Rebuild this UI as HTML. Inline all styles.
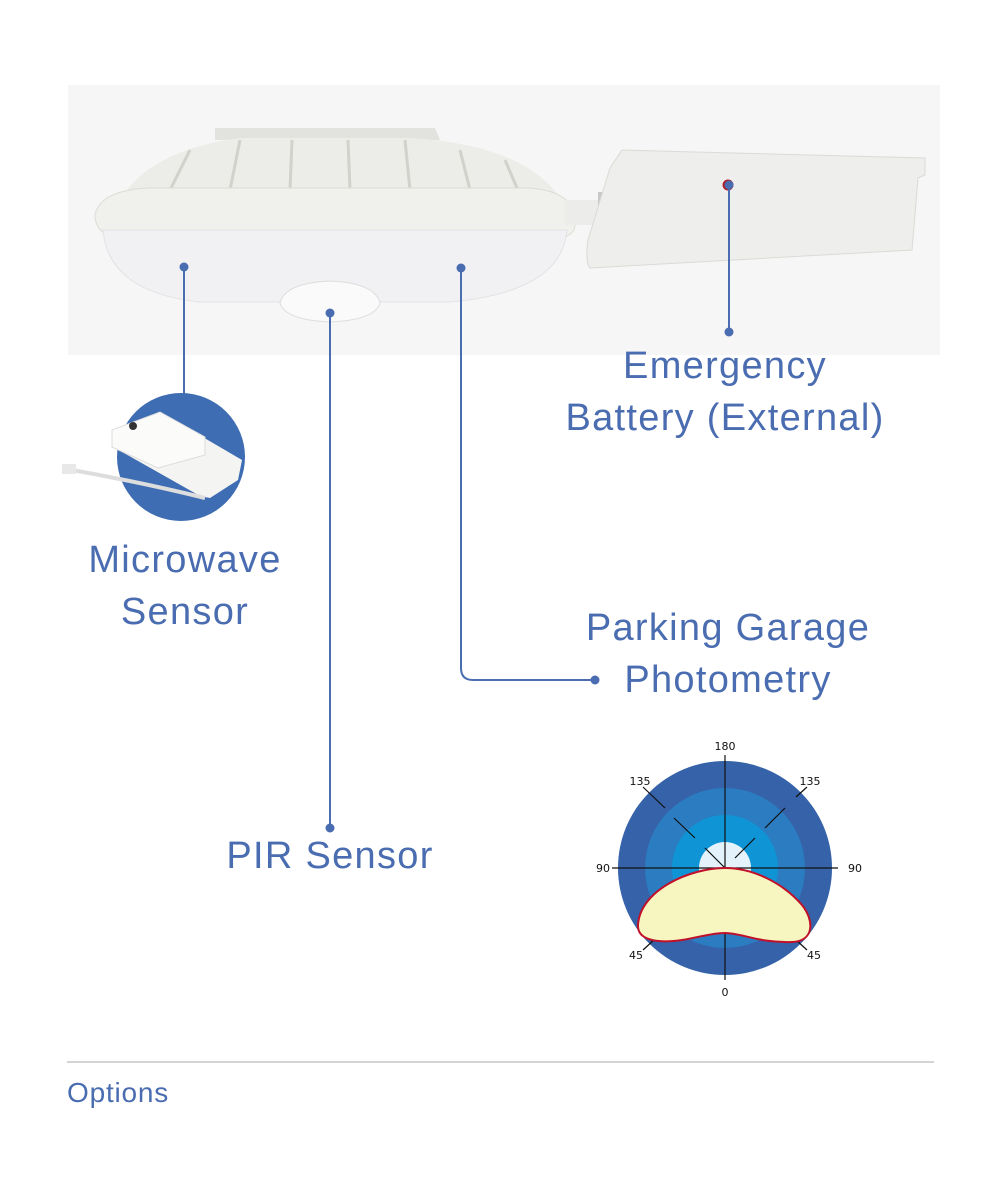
<!DOCTYPE html>
<html><head><style>
body{margin:0;width:1000px;height:1200px;background:#fff;position:relative;overflow:hidden;font-family:"Liberation Sans",sans-serif;}
.t{position:absolute;color:#4a6cb0;font-size:38px;letter-spacing:1.3px;text-align:center;line-height:52px;}
</style></head><body>
<svg width="1000" height="1200" style="position:absolute;left:0;top:0">
<rect x="68" y="85" width="872" height="270" fill="#f6f6f6"/>
<path d="M215,128 L435,128 L440,140 L215,140 Z" fill="#e2e2de"/>
<path d="M120,200 Q150,150 240,138 L410,138 Q530,145 565,205 Z" fill="#ecece8"/>
<g stroke="#d2d2cc" stroke-width="3">
<line x1="170" y1="190" x2="190" y2="150"/><line x1="230" y1="190" x2="240" y2="140"/>
<line x1="290" y1="190" x2="292" y2="140"/><line x1="350" y1="190" x2="348" y2="140"/>
<line x1="410" y1="190" x2="405" y2="140"/><line x1="470" y1="190" x2="460" y2="150"/>
<line x1="520" y1="195" x2="505" y2="160"/></g>
<path d="M95,215 Q100,190 150,188 L530,188 Q578,192 575,225 Q575,240 540,240 L130,240 Q95,238 95,215 Z" fill="#f0f0ed" stroke="#dcdcd6"/>
<path d="M103,230 Q108,292 200,302 L450,302 Q562,292 567,230 Z" fill="#f1f1f3" stroke="#e2e2e4"/>
<path d="M280,303 Q285,283 330,281 Q375,283 380,303 Q375,320 330,322 Q285,320 280,303 Z" fill="#fafafa" stroke="#ddd"/>
<rect x="565" y="200" width="35" height="25" fill="#ececea"/>
<rect x="598" y="192" width="14" height="42" fill="#c8c8c8"/>
<path d="M622,150 L925,158 L925,175 L918,178 L912,250 L590,268 Q585,262 588,240 L610,168 Z" fill="#eeeeec" stroke="#dadad6"/>
<circle cx="728" cy="185" r="7" fill="#b01e28" stroke="#eee" stroke-width="3"/>
<g stroke="#4a6cb0" stroke-width="2" fill="none">
<line x1="184" y1="267" x2="184" y2="395"/>
<line x1="330" y1="313" x2="330" y2="828"/>
<path d="M461,268 L461,668 Q461,680 473,680 L595,680"/>
<line x1="729" y1="185" x2="729" y2="332"/>
</g>
<g fill="#4a6cb0">
<circle cx="184" cy="267" r="4.5"/><circle cx="330" cy="313" r="4.5"/><circle cx="330" cy="828" r="4.5"/>
<circle cx="461" cy="268" r="4.5"/><circle cx="595" cy="680" r="4.5"/>
<circle cx="729" cy="185" r="4.5"/><circle cx="729" cy="332" r="4.5"/>
</g>
<circle cx="181" cy="457" r="64" fill="#3f6db3"/>
<path d="M112,430 L160,412 L242,460 L238,480 L210,498 L200,496 L115,448 Z" fill="#f4f4f2"/>
<path d="M112,430 L160,412 L205,437 L205,455 L158,468 L112,447 Z" fill="#fbfbfa" stroke="#ddd"/>
<circle cx="133" cy="426" r="4" fill="#333"/>
<path d="M72,470 Q140,482 205,498" stroke="#ddd" stroke-width="4" fill="none"/>
<rect x="62" y="464" width="14" height="10" fill="#e8e8e8"/>
<circle cx="725" cy="868" r="107" fill="#3562a8"/>
<circle cx="725" cy="868" r="80" fill="#2b7cc0"/>
<circle cx="725" cy="868" r="53" fill="#0f95d6"/>
<circle cx="725" cy="868" r="26" fill="#e3f2fb"/>
<g stroke="#111" stroke-width="1.2">
<line x1="725" y1="755" x2="725" y2="980"/><line x1="612" y1="868" x2="838" y2="868"/>
<line x1="643" y1="787" x2="665" y2="808"/><line x1="674" y1="818" x2="695" y2="838"/><line x1="705" y1="848" x2="725" y2="868"/>
<line x1="807" y1="787" x2="796" y2="797"/><line x1="785" y1="808" x2="765" y2="828"/><line x1="755" y1="838" x2="735" y2="858"/>
<line x1="643" y1="950" x2="655" y2="939"/><line x1="807" y1="950" x2="795" y2="939"/>
</g>
<path d="M725,868 C690,868 640,890 638,925 C637,942 662,943 682,940 C700,937 712,933 725,933 C742,933 758,943 792,942 C815,941 814,920 802,905 C782,882 752,868 725,868 Z" fill="#f8f6c0" stroke="#c0102a" stroke-width="2"/>
<g font-family="DejaVu Sans, sans-serif" font-size="11" fill="#111" text-anchor="middle">
<text x="725" y="750">180</text><text x="640" y="785">135</text><text x="810" y="785">135</text>
<text x="603" y="872">90</text><text x="855" y="872">90</text>
<text x="636" y="959">45</text><text x="814" y="959">45</text><text x="725" y="996">0</text>
</g>
<line x1="67" y1="1062" x2="934" y2="1062" stroke="#aaa" stroke-width="1"/>
</svg>
<div class="t" style="left:475px;top:340px;width:500px;">Emergency<br>Battery (External)</div>
<div class="t" style="left:20px;top:534px;width:330px;">Microwave<br>Sensor</div>
<div class="t" style="left:478px;top:602px;width:500px;">Parking Garage<br>Photometry</div>
<div class="t" style="left:150px;top:830px;width:360px;">PIR Sensor</div>
<div style="position:absolute;left:67px;top:1077px;color:#4a6cb0;font-size:28px;letter-spacing:0.8px;">Options</div>
</body></html>
